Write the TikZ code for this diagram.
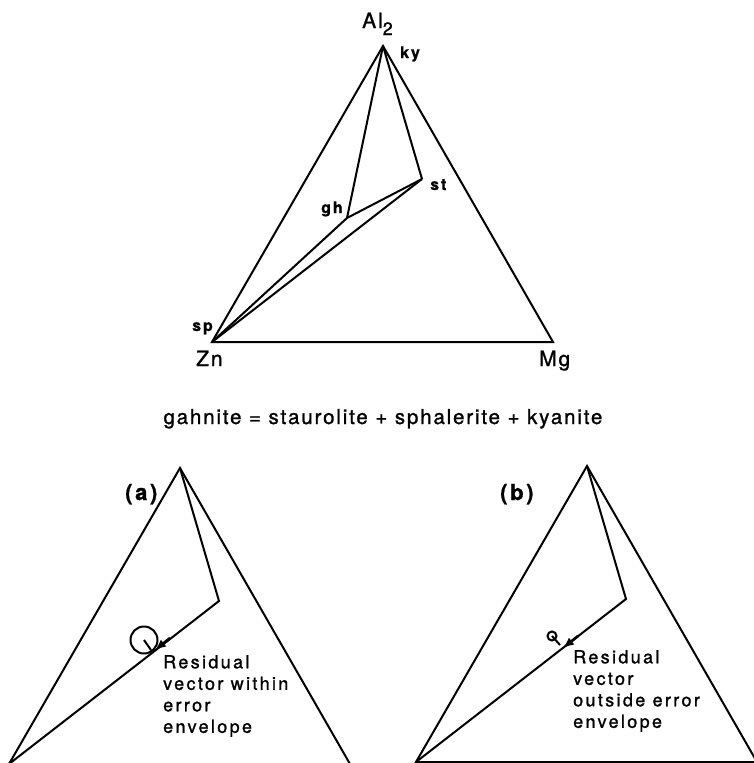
\documentclass[tikz,border=0pt]{standalone}
\usepackage{fontspec}
\setmainfont{TeX Gyre Heros}
\newfontfamily\eqfont{TeX Gyre Heros}[LetterSpace=9,FakeBold=1.2]
\newfontfamily\txtfont{TeX Gyre Heros}[LetterSpace=13,FakeBold=1.2]
\newfontfamily\tagfont{TeX Gyre Heros}[LetterSpace=12,FakeBold=1]
\usetikzlibrary{arrows.meta}
\begin{document}
\begin{tikzpicture}[x=1pt,y=-1pt,
  edge/.style={line width=2pt, line join=miter},
  corner/.style={inner sep=0pt, anchor=base west, font=\fontsize{21}{24}\selectfont\eqfont},
  phase/.style={inner sep=0pt, anchor=base west, font=\fontsize{16}{18}\selectfont\tagfont\bfseries},
  panel/.style={inner sep=0pt, anchor=base west, font=\fontsize{22}{26}\selectfont\tagfont\bfseries},
  note/.style={inner sep=0pt, anchor=north west, align=left, font=\fontsize{18}{21.5}\selectfont\txtfont},
  blob/.style={line width=2.6pt, -{Latex[length=11pt,width=9pt]}}]
\useasboundingbox (0,0) rectangle (754,763);
\clip (0,0) rectangle (754,763);
% ---- top diagram
\coordinate (A) at (383,46);
\coordinate (Zn) at (212,342);
\coordinate (Mg) at (553,342);
\coordinate (gh) at (347,218);
\coordinate (st) at (422,179);
\draw[edge] (A) -- (Zn) -- (Mg) -- cycle;
\draw[edge] (A) -- (gh);
\draw[edge] (A) -- (st);
\draw[edge] (Zn) -- (gh) -- (st);
\draw[edge] (Zn) -- (st);
\node[corner] (lAl) at (362,28) {Al\raisebox{-7pt}{\fontsize{18}{18}\selectfont 2}};
\node[phase] (lky) at (400,58) {ky};
\node[phase] (lst) at (430,190) {st};
\node[phase] (lgh) at (321,213) {gh};
\node[phase] (lsp) at (192,331) {sp};
\node[corner] (lZn) at (196,366) {Zn};
\node[corner] (lMg) at (539,366) {Mg};
\node[inner sep=0pt, anchor=base, font=\fontsize{20.5}{24}\selectfont\eqfont] (eq) at (383,424)
  {gahnite = staurolite + sphalerite + kyanite};
% ---- panel (a)
\coordinate (aA) at (180,468);
\coordinate (aZn) at (9,764);
\coordinate (aMg) at (350,764);
\coordinate (ast) at (219,601);
\coordinate (agh) at (144,640);
\coordinate (afoot) at (151,650);
\coordinate (atipS) at (170,638);
\coordinate (atipE) at (155,650);
\draw[edge] (aA) -- (aZn) -- (aMg) -- cycle;
\draw[edge] (aA) -- (ast) -- (aZn);
\draw[edge] (agh) circle[radius=13.5];
\draw[edge] (agh) -- (afoot);
\draw[blob] (atipS) -- (atipE);
\node[panel] (la) at (125,500) {(a)};
\node[note] (ta) at (163,655) {Residual\\vector within\\error\\envelope};
% ---- panel (b)
\coordinate (bA) at (587,466);
\coordinate (bZn) at (416,762);
\coordinate (bMg) at (757,762);
\coordinate (bst) at (626,599);
\coordinate (bgh) at (552,636);
\coordinate (bfoot) at (560,645);
\coordinate (btipS) at (578,636);
\coordinate (btipE) at (563,648);
\draw[edge] (bA) -- (bZn) -- (bMg) -- cycle;
\draw[edge] (bA) -- (bst) -- (bZn);
\draw[edge] (bgh) circle[radius=4.5];
\draw[edge] (bgh) -- (bfoot);
\draw[blob] (btipS) -- (btipE);
\node[panel] (lb) at (500,500) {(b)};
\node[note] (tb) at (573,650) {Residual\\vector\\outside error\\envelope};
\end{tikzpicture}
\end{document}
